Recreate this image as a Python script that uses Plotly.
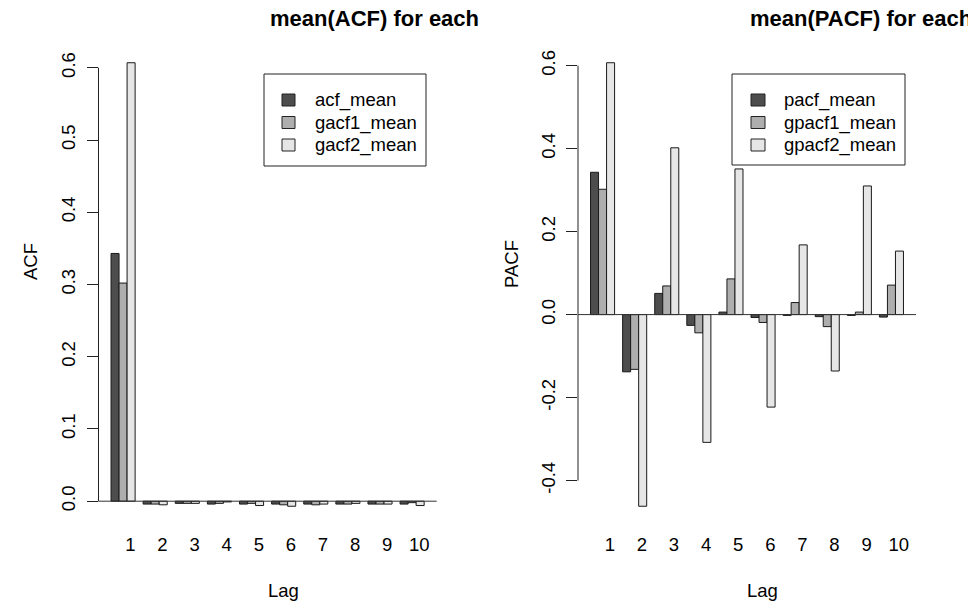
import plotly.graph_objects as go

# ---------------- data ----------------
lags = list(range(1, 11))
acf_mean   = [0.343, -0.004, -0.003, -0.004, -0.004, -0.004, -0.004, -0.004, -0.004, -0.004]
gacf1_mean = [0.302, -0.004, -0.003, -0.003, -0.003, -0.005, -0.005, -0.004, -0.004, -0.002]
gacf2_mean = [0.607, -0.005, -0.003, -0.001, -0.006, -0.007, -0.004, -0.003, -0.004, -0.006]

pacf_mean   = [0.343, -0.138, 0.051, -0.026, 0.006, -0.007, -0.002, -0.005, -0.002, -0.006]
gpacf1_mean = [0.302, -0.132, 0.069, -0.044, 0.086, -0.019, 0.029, -0.029, 0.006, 0.071]
gpacf2_mean = [0.607, -0.462, 0.402, -0.308, 0.351, -0.223, 0.168, -0.136, 0.310, 0.153]

acf_names = ["acf_mean", "gacf1_mean", "gacf2_mean"]
pacf_names = ["pacf_mean", "gpacf1_mean", "gpacf2_mean"]
acf_ticks = [0.0, 0.1, 0.2, 0.3, 0.4, 0.5, 0.6]
pacf_ticks = [-0.4, -0.2, 0.0, 0.2, 0.4, 0.6]
fill_colors = ["#4D4D4D", "#AEAEAE", "#E6E6E6"]

# ---------------- layout helpers ----------------
W, H = 968, 603
FONT = "Liberation Sans, Arial, Helvetica, sans-serif"
FS = 18.5


def fx(p):
    return p / W


def fy(p):
    return 1 - p / H


LEFT_DOM = [fx(98.5), fx(436.7)]
RIGHT_DOM = [fx(578), fx(916)]
Y_DOM = [fy(524), fy(45)]

# R barplot(beside=TRUE) geometry: 3 bars per group, 1 unit gap
n_ser = 3
group_starts = [1 + (n_ser + 1) * i for i in range(len(lags))]
bar_lo, bar_hi = group_starts[0], group_starts[-1] + n_ser
xpad = 0.04 * (bar_hi - bar_lo)
xrange_ = [bar_lo - xpad, bar_hi + xpad]
tickpos = [g + 2.4 for g in group_starts]


def yrange(series):
    vals = [v for s in series for v in s]
    lo, hi = min(0, min(vals)), max(0, max(vals))
    pad = 0.04 * (hi - lo)
    return [lo - pad, hi + pad]


fig = go.Figure()

panels = [
    ("x", "y", [acf_mean, gacf1_mean, gacf2_mean], acf_names),
    ("x2", "y2", [pacf_mean, gpacf1_mean, gpacf2_mean], pacf_names),
]
for xa, ya, series, names in panels:
    for k, (vals, name) in enumerate(zip(series, names)):
        fig.add_trace(go.Bar(
            x=[g + k + 0.5 for g in group_starts], y=vals, width=1,
            name=name, xaxis=xa, yaxis=ya, showlegend=False,
            marker=dict(color=fill_colors[k], line=dict(color="#1a1a1a", width=1)),
        ))

axis_common_x = dict(range=xrange_, showline=False, showgrid=False, zeroline=False,
                     tickvals=tickpos, ticktext=[str(l) for l in lags], ticks="",
                     tickfont=dict(family=FONT, size=FS, color="black"),
                     ticklabelstandoff=7, fixedrange=True)


def yaxis_cfg(ticks, series, anchor):
    return dict(domain=Y_DOM, range=yrange(series), anchor=anchor,
                tickvals=ticks, ticktext=[f"{t:.1f}" for t in ticks],
                ticks="outside", ticklen=11, tickcolor="#222222", tickwidth=1,
                tickangle=-90, showline=False, showgrid=False, zeroline=False,
                tickfont=dict(family=FONT, size=FS, color="black"),
                ticklabelstandoff=4, fixedrange=True)


fig.update_layout(
    width=W, height=H, margin=dict(l=0, r=0, t=0, b=0),
    paper_bgcolor="white", plot_bgcolor="white", barmode="overlay",
    font=dict(family=FONT, size=FS, color="black"),
    xaxis=dict(domain=LEFT_DOM, anchor="y", **axis_common_x),
    xaxis2=dict(domain=RIGHT_DOM, anchor="y2", **axis_common_x),
    yaxis=yaxis_cfg(acf_ticks, [acf_mean, gacf1_mean, gacf2_mean], "x"),
    yaxis2=yaxis_cfg(pacf_ticks, [pacf_mean, gpacf1_mean, gpacf2_mean], "x2"),
)

shapes = []
annotations = []
for xa, ya, ticks in [("x", "y", acf_ticks), ("x2", "y2", pacf_ticks)]:
    # R-style y axis line from first to last tick
    shapes.append(dict(type="line", xref=f"{xa} domain", yref=ya, x0=0, x1=0,
                       y0=min(ticks), y1=max(ticks), line=dict(color="#222222", width=1)))
    # zero reference line
    shapes.append(dict(type="line", xref=f"{xa} domain", yref=ya, x0=0, x1=1,
                       y0=0, y1=0, line=dict(color="#333333", width=1)))

# legends (manual, R style)
legends = [
    (acf_names, 264, 426, 74, 166, 282, 295, 313),
    (pacf_names, 732, 905, 74, 165, 751, 765, 782),
]
for names, bx0, bx1, by0, by1, sx0, sx1, tx in legends:
    shapes.append(dict(type="rect", xref="paper", yref="paper",
                       x0=fx(bx0), x1=fx(bx1), y0=fy(by1), y1=fy(by0),
                       line=dict(color="#222222", width=1), fillcolor="white", layer="above"))
    for k, name in enumerate(names):
        cy = 100 + 22.5 * k
        shapes.append(dict(type="rect", xref="paper", yref="paper",
                           x0=fx(sx0), x1=fx(sx1), y0=fy(cy + 6), y1=fy(cy - 6),
                           line=dict(color="#222222", width=1), fillcolor=fill_colors[k],
                           layer="above"))
        annotations.append(dict(text=name, xref="paper", yref="paper", x=fx(tx), y=fy(cy),
                                xanchor="left", yanchor="middle", showarrow=False,
                                font=dict(family=FONT, size=FS, color="black")))

# titles (clipped at figure edge like the original)
annotations.append(dict(text="<b>mean(ACF) for each</b>", xref="paper", yref="paper",
                        x=fx(268), y=fy(19), xanchor="left", yanchor="middle",
                        showarrow=False, font=dict(family=FONT, size=22, color="black")))
annotations.append(dict(text="<b>mean(PACF) for each</b>", xref="paper", yref="paper",
                        x=fx(748), y=fy(19), xanchor="left", yanchor="middle",
                        showarrow=False, font=dict(family=FONT, size=22, color="black")))

# axis titles
for txt, x, y in [("Lag", 283, 590), ("Lag", 762, 590)]:
    annotations.append(dict(text=txt, xref="paper", yref="paper", x=fx(x), y=fy(y),
                            xanchor="center", yanchor="middle", showarrow=False,
                            font=dict(family=FONT, size=FS, color="black")))
for txt, x, y in [("ACF", 31, 261), ("PACF", 511, 264)]:
    annotations.append(dict(text=txt, xref="paper", yref="paper", x=fx(x), y=fy(y),
                            xanchor="center", yanchor="middle", showarrow=False, textangle=-90,
                            font=dict(family=FONT, size=FS, color="black")))

fig.update_layout(shapes=shapes, annotations=annotations)
fig.write_html("out.html")
